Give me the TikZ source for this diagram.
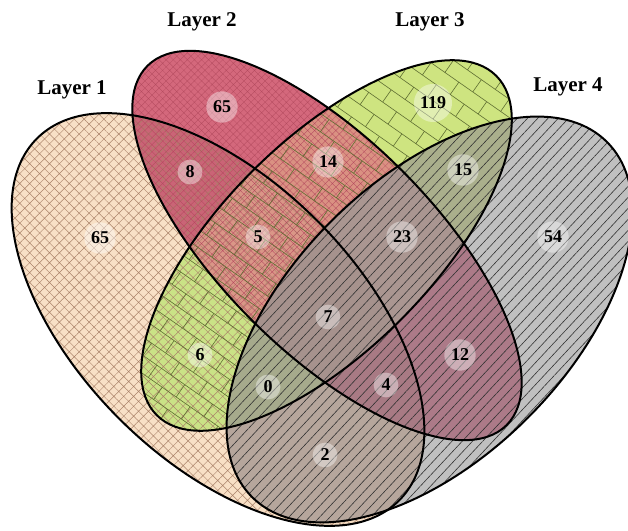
\documentclass[tikz,border=0pt]{standalone}
\usepackage{fontspec}
\setmainfont{Liberation Serif}
\usetikzlibrary{patterns.meta}

\pgfdeclarepattern{
  name=brickrot,
  type=uncolored,
  bottom left={\pgfpoint{-1pt}{-1pt}},
  top right={\pgfpoint{35pt}{31pt}},
  tile size={\pgfpoint{34pt}{30pt}},
  tile transformation={\pgftransformrotate{-35}},
  code={
    \pgfsetlinewidth{0.6pt}
    \pgfpathmoveto{\pgfpoint{0pt}{0pt}}\pgfpathlineto{\pgfpoint{34pt}{0pt}}
    \pgfpathmoveto{\pgfpoint{0pt}{15pt}}\pgfpathlineto{\pgfpoint{34pt}{15pt}}
    \pgfpathmoveto{\pgfpoint{0pt}{0pt}}\pgfpathlineto{\pgfpoint{0pt}{15pt}}
    \pgfpathmoveto{\pgfpoint{17pt}{15pt}}\pgfpathlineto{\pgfpoint{17pt}{30pt}}
    \pgfusepath{stroke}
  }
}

\definecolor{cA}{RGB}{248,224,198}
\definecolor{cB}{RGB}{212,104,124}
\definecolor{cC}{RGB}{206,228,128}
\definecolor{cD}{RGB}{192,192,192}
\definecolor{cAB}{RGB}{202,100,118}
\definecolor{cAC}{RGB}{202,226,134}
\definecolor{cAD}{RGB}{182,166,156}
\definecolor{cBC}{RGB}{218,145,130}
\definecolor{cBD}{RGB}{172,122,136}
\definecolor{cCD}{RGB}{170,175,140}
\definecolor{cABC}{RGB}{218,150,135}
\definecolor{cABD}{RGB}{168,122,132}
\definecolor{cACD}{RGB}{166,170,140}
\definecolor{cBCD}{RGB}{170,150,145}
\definecolor{cABCD}{RGB}{166,146,141}
\definecolor{hatchA}{RGB}{170,130,105}
\definecolor{hatchB}{RGB}{180,75,95}
\definecolor{brickC}{RGB}{95,110,50}
\definecolor{lineD}{RGB}{50,50,50}

\def\ellA{(218,210.5) ellipse [x radius=256pt, y radius=140pt]}
\def\ellB{(327,284.5) ellipse [x radius=254pt, y radius=106pt]}
\def\ellC{(326.5,284.5) ellipse [x radius=240pt, y radius=105pt]}
\def\ellD{(429.5,210.5) ellipse [x radius=251pt, y radius=139pt]}

\tikzset{
  elA/.style={rotate around={-45:(218,210.5)}},
  elB/.style={rotate around={-45:(327,284.5)}},
  elC/.style={rotate around={45:(326.5,284.5)}},
  elD/.style={rotate around={45:(429.5,210.5)}},
  outline/.style={draw=black, line width=2pt},
  num/.style={circle, fill=white, fill opacity=0.4, text opacity=1, inner sep=3.5pt,
    font=\fontsize{18}{20}\selectfont\bfseries},
  layer/.style={font=\fontsize{21}{24}\selectfont\bfseries}
}

\begin{document}
\begin{tikzpicture}[x=1pt,y=1pt]
\useasboundingbox (0,0) rectangle (628,530);
\fill[white] (0,0) rectangle (628,530);

% single-set fills
\fill[cA, elA] \ellA;
\fill[cB, elB] \ellB;
\fill[cC, elC] \ellC;
\fill[cD, elD] \ellD;
% pairs
\begin{scope}\clip[elA] \ellA; \fill[cAB, elB] \ellB; \end{scope}
\begin{scope}\clip[elA] \ellA; \fill[cAC, elC] \ellC; \end{scope}
\begin{scope}\clip[elA] \ellA; \fill[cAD, elD] \ellD; \end{scope}
\begin{scope}\clip[elB] \ellB; \fill[cBC, elC] \ellC; \end{scope}
\begin{scope}\clip[elB] \ellB; \fill[cBD, elD] \ellD; \end{scope}
\begin{scope}\clip[elC] \ellC; \fill[cCD, elD] \ellD; \end{scope}
% triples
\begin{scope}\clip[elA] \ellA; \clip[elB] \ellB; \fill[cABC, elC] \ellC; \end{scope}
\begin{scope}\clip[elA] \ellA; \clip[elB] \ellB; \fill[cABD, elD] \ellD; \end{scope}
\begin{scope}\clip[elA] \ellA; \clip[elC] \ellC; \fill[cACD, elD] \ellD; \end{scope}
\begin{scope}\clip[elB] \ellB; \clip[elC] \ellC; \fill[cBCD, elD] \ellD; \end{scope}
% all four
\begin{scope}\clip[elA] \ellA; \clip[elB] \ellB; \clip[elC] \ellC; \fill[cABCD, elD] \ellD; \end{scope}

% patterns of A, B, C outside D
\begin{scope}[even odd rule]
  \clip[elD] (-3000,-3000) rectangle (3000,3000) \ellD;
  \begin{scope}\clip[elA] \ellA;
    \fill[pattern={Hatch[angle=45,distance=7pt,line width=0.45pt]}, pattern color=hatchA, fill opacity=0.85] (0,0) rectangle (628,530);
  \end{scope}
  \begin{scope}\clip[elB] \ellB;
    \fill[pattern={Hatch[angle=45,distance=5pt,line width=0.3pt]}, pattern color=hatchB, fill opacity=0.3] (0,0) rectangle (628,530);
  \end{scope}
  \begin{scope}\clip[elC] \ellC;
    \fill[pattern=brickrot, pattern color=brickC, fill opacity=0.6] (0,0) rectangle (628,530);
  \end{scope}
\end{scope}
% D lines
\begin{scope}\clip[elD] \ellD;
  \fill[pattern={Lines[angle=47,distance=7.5pt,line width=0.6pt]}, pattern color=lineD, fill opacity=0.85] (0,0) rectangle (628,530);
\end{scope}

% outlines
\draw[outline, elA] \ellA;
\draw[outline, elB] \ellB;
\draw[outline, elC] \ellC;
\draw[outline, elD] \ellD;

% counts
\node[num] (nA)    at (100,292) {65};
\node[num] (nB)    at (222,423) {65};
\node[num] (nC)    at (433,427) {119};
\node[num] (nD)    at (553,293) {54};
\node[num] (nAB)   at (190,358) {8};
\node[num] (nBC)   at (328,368) {14};
\node[num] (nCD)   at (463,360) {15};
\node[num] (nABC)  at (258,293) {5};
\node[num] (nBCD)  at (402,293) {23};
\node[num] (nABCD) at (328,213) {7};
\node[num] (nAC)   at (200,175) {6};
\node[num] (nBD)   at (460,175) {12};
\node[num] (nACD)  at (268,143) {0};
\node[num] (nABD)  at (386,145) {4};
\node[num] (nAD)   at (325,75)  {2};

% set labels
\node[layer] (L1) at (72,440) {Layer 1};
\node[layer] (L2) at (202,508) {Layer 2};
\node[layer] (L3) at (430,508) {Layer 3};
\node[layer] (L4) at (568,443) {Layer 4};
\end{tikzpicture}
\end{document}
